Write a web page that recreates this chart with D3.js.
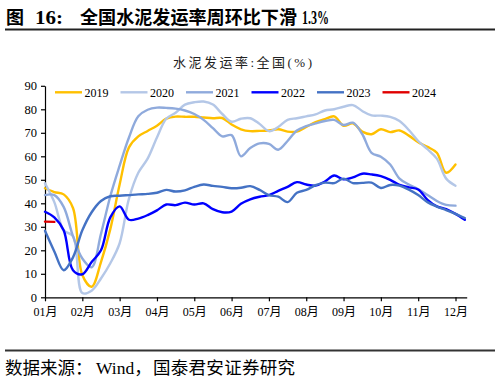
<!DOCTYPE html>
<html><head><meta charset="utf-8">
<script src="https://cdn.jsdelivr.net/npm/d3@7"></script>
<style>
body{margin:0;background:#fff;}
svg{display:block;}
</style></head>
<body>
<svg id="c" width="500" height="381"></svg>
<script>
// ---- data ----
const xPos = [0,0.25,0.5,0.75,1,1.25,1.5,1.75,2,2.25,2.5,2.75,3,3.25,3.5,3.75,4,4.25,4.5,4.75,5,5.25,5.5,5.75,6,6.25,6.5,6.75,7,7.25,7.5,7.75,8,8.25,8.5,8.75,9,9.25,9.5,9.75,10,10.25,10.5,10.75,11,11.25];
const monthLabels = ["01月","02月","03月","04月","05月","06月","07月","08月","09月","10月","11月","12月"];
const yTicks = [0,10,20,30,40,50,60,70,80,90];
const seriesNames = ["2019","2020","2021","2022","2023","2024"];
const s2019 = [46.4,44.8,43.8,38,9.5,4.5,15,29,48,63.8,68.5,70.8,73,76,76.9,76.8,76.8,76.5,76.2,76.3,73.5,71.5,70.7,70.8,71,71.5,70.5,70.5,72.5,74.5,75.8,77,73,74,70.5,69.4,71.5,70.3,71,68.8,66,64,61.5,53,56.5];
const s2020 = [48.5,40.5,28.5,26,1.8,2.8,8,14.5,23,42,53,59,68,76,78.5,82,83,83.3,82,78,74.7,76,76.2,73.8,70.7,72.5,75.5,76.2,77,77.8,79.5,80,81.1,81.8,79.3,77.4,77.3,76.8,75,71.2,66.5,63,59,50.5,47.5];
const s2021 = [43.5,43.5,38.5,26,16.5,12.8,27,43,56,68,77,79.8,80.7,80.6,80.3,79.5,78,75.5,72,68.5,69,60,63.5,65.5,65.3,62.8,66.5,71,72.8,74,75,75.5,73.3,74.3,69.5,61.5,59.8,56.5,50.5,48,46,43.5,41,39.3,39];
const s2022 = [36.4,34,28.5,11.5,9.8,15,20,34,38.7,33,33.5,35,37,39.5,39.2,40.3,39.5,40,37.5,36.2,36.5,39.8,41.7,42.8,43.5,45.3,47,49,48,47.5,49.3,51.8,50.2,51,52.6,52.3,51.6,50,47.8,46.8,45.9,41.5,38.7,37.5,35.5,33];
const s2023 = [28.3,19.5,11.5,17,28.5,36.2,41,43,43.2,43.5,43.8,44,44.5,45.7,45,45.5,47,48,47.4,47,46.4,46.6,47.3,45.7,43.5,42.8,40.5,44.5,45.7,47.7,48.8,48.6,50.5,48.6,48.7,48.8,46.5,47.8,47.5,45.8,43.5,40.5,38.6,37.1,35.5,33.7];
const s2024 = [32.2,32.1];
const seriesValues = [s2019,s2020,s2021,s2022,s2023,s2024];
const colors = ["#FFC000","#B4C7E7","#8FAADC","#0000FF","#4472C4","#E00000"];

// ---- chart ----
const svg = d3.select("#c");
const serif = "'Times New Roman','Liberation Serif','Noto Sans CJK SC',serif";
const cjk = "'Times New Roman','Liberation Serif','Noto Sans CJK SC',sans-serif";

// title
const tAttrs = (t)=>t.attr("y",24).attr("font-family",cjk).attr("font-weight","bold").attr("font-size",18).attr("fill","#000");
tAttrs(svg.append("text").attr("x",6)).text("图");
tAttrs(svg.append("text").attr("x",35)).attr("textLength",28).attr("lengthAdjust","spacingAndGlyphs").text("16:");
tAttrs(svg.append("text").attr("x",80)).attr("textLength",217).attr("lengthAdjust","spacingAndGlyphs").text("全国水泥发运率周环比下滑");
tAttrs(svg.append("text").attr("x",302)).attr("font-size",19).attr("textLength",27).attr("lengthAdjust","spacingAndGlyphs").text("1.3%");
svg.append("line").attr("x1",5).attr("x2",495).attr("y1",29.5).attr("y2",29.5)
  .attr("stroke","#222").attr("stroke-width",2);

// subtitle
svg.append("text").attr("x",173).attr("y",67)
  .attr("font-family",cjk).attr("font-size",13).attr("fill","#222")
  .attr("textLength",139).attr("lengthAdjust","spacing").text("水泥发运率:全国(%)");

const x = d3.scaleLinear().domain([0,11.3]).range([45,466.7]);
const y = d3.scaleLinear().domain([0,90]).range([297.3,85.8]);

const yAxis = svg.append("g").attr("transform","translate(45,0)")
  .call(d3.axisLeft(y).tickValues(yTicks).tickSize(4).tickPadding(4).tickSizeOuter(0));
const xAxis = svg.append("g").attr("transform","translate(0,297.3)")
  .call(d3.axisBottom(x).tickValues(d3.range(12)).tickFormat(i=>monthLabels[i]).tickSize(4).tickPadding(6).tickSizeOuter(0));
[yAxis,xAxis].forEach(g=>{
  g.selectAll("path,line").attr("stroke","#000").attr("stroke-width",1.2);
  g.selectAll("text").attr("font-family",serif).attr("font-size",12).attr("fill","#000");
});
yAxis.selectAll("text").attr("font-size",12.5);

const line = d3.line().x((d,i)=>x(xPos[i])).y(d=>y(d)).curve(d3.curveCatmullRom.alpha(0.5));
seriesValues.forEach((vals,k)=>{
  svg.append("path").datum(vals).attr("d",line).attr("fill","none")
    .attr("stroke",colors[k]).attr("stroke-width",2.4).attr("stroke-linejoin","round").attr("stroke-linecap","round");
});

// legend
seriesNames.forEach((n,k)=>{
  const lx = 55 + k*65.5, ly = 92.3;
  svg.append("line").attr("x1",lx).attr("x2",lx+27).attr("y1",ly).attr("y2",ly)
    .attr("stroke",colors[k]).attr("stroke-width",2.4);
  svg.append("text").attr("x",lx+29.5).attr("y",ly+4.3).attr("font-family",serif)
    .attr("font-size",12).attr("fill","#000").text(n);
});

// footer
svg.append("line").attr("x1",5).attr("x2",495).attr("y1",350.5).attr("y2",350.5)
  .attr("stroke","#333").attr("stroke-width",2);
const fAttrs = (t)=>t.attr("y",374).attr("font-family",cjk).attr("font-size",17.5).attr("fill","#000");
fAttrs(svg.append("text").attr("x",5)).text("数据来源：");
fAttrs(svg.append("text").attr("x",96)).text("Wind，");
fAttrs(svg.append("text").attr("x",153)).attr("textLength",142).attr("lengthAdjust","spacing").text("国泰君安证券研究");
</script>
</body></html>
